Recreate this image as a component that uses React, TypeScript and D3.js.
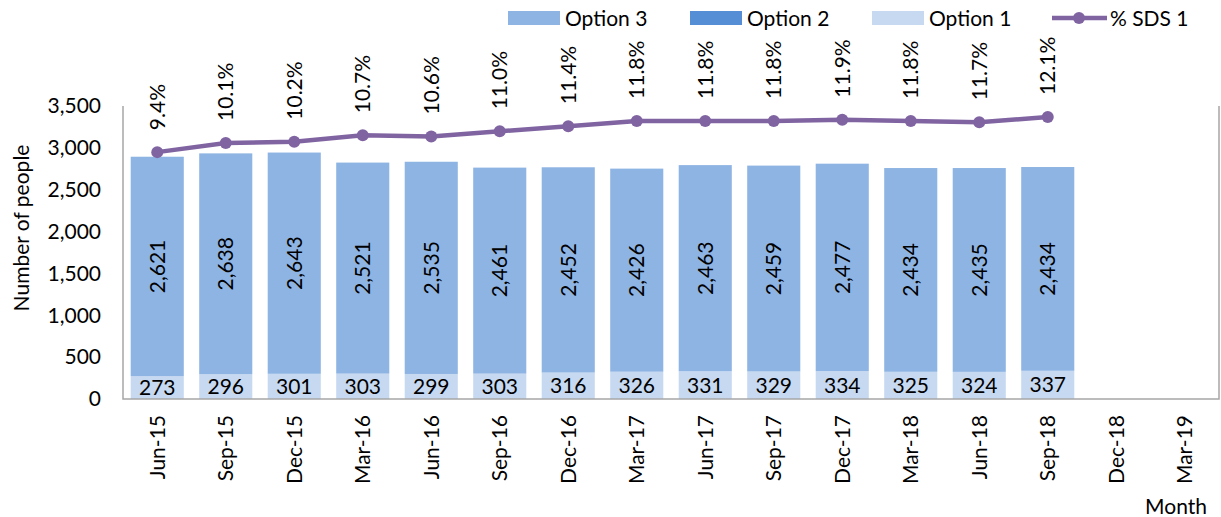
import React, { useEffect, useRef } from 'react';
import * as d3 from 'd3';

const months = ['Jun-15', 'Sep-15', 'Dec-15', 'Mar-16', 'Jun-16', 'Sep-16', 'Dec-16', 'Mar-17',
  'Jun-17', 'Sep-17', 'Dec-17', 'Mar-18', 'Jun-18', 'Sep-18', 'Dec-18', 'Mar-19'];
const option1 = [273, 296, 301, 303, 299, 303, 316, 326, 331, 329, 334, 325, 324, 337];
const option2 = [0, 0, 0, 0, 0, 0, 0, 0, 0, 0, 0, 0, 0, 0];
const option3 = [2621, 2638, 2643, 2521, 2535, 2461, 2452, 2426, 2463, 2459, 2477, 2434, 2435, 2434];
const sds1 = [9.4, 10.1, 10.2, 10.7, 10.6, 11.0, 11.4, 11.8, 11.8, 11.8, 11.9, 11.8, 11.7, 12.1];
const yTicks = [0, 500, 1000, 1500, 2000, 2500, 3000, 3500];

const FONT = 'Lato, "DejaVu Sans Condensed", sans-serif';
const C1 = '#c6d9f1';
const C2 = '#558ed5';
const C3 = '#8eb4e3';
const CL = '#8064a2';

export default function App() {
  const ref = useRef<SVGSVGElement>(null);

  useEffect(() => {
    const svg = d3.select(ref.current);
    svg.selectAll('*').remove();
    const margin = { top: 106, right: 2, bottom: 118, left: 123 };
    const W = 1221, H = 517;
    const width = W - margin.left - margin.right;
    const height = H - margin.top - margin.bottom;

    const g = svg.append('g').attr('transform', `translate(${margin.left},${margin.top})`);
    const x = d3.scaleBand().domain(months).range([0, width]).paddingInner(0.225).paddingOuter(0.1125);
    const y = d3.scaleLinear().domain([0, 3500]).range([height, 0]);
    const y2 = d3.scaleLinear().domain([-9.6, 12.95]).range([height, 0]);

    const rows = option1.map((v, i) => ({
      month: months[i], o1: v, o2: option2[i], o3: option3[i], pct: sds1[i]
    }));

    // bars
    const bars = g.selectAll('.bar').data(rows).enter().append('g');
    bars.append('rect')
      .attr('x', d => x(d.month)!)
      .attr('width', x.bandwidth())
      .attr('y', d => y(d.o1))
      .attr('height', d => height - y(d.o1))
      .attr('fill', C1);
    bars.append('rect')
      .attr('x', d => x(d.month)!)
      .attr('width', x.bandwidth())
      .attr('y', d => y(d.o1 + d.o2))
      .attr('height', d => y(d.o1) - y(d.o1 + d.o2))
      .attr('fill', C2);
    bars.append('rect')
      .attr('x', d => x(d.month)!)
      .attr('width', x.bandwidth())
      .attr('y', d => y(d.o1 + d.o2 + d.o3))
      .attr('height', d => y(d.o1 + d.o2) - y(d.o1 + d.o2 + d.o3))
      .attr('fill', C3);

    const fmt = d3.format(',');
    bars.append('text')
      .attr('x', d => x(d.month)! + x.bandwidth() / 2)
      .attr('y', d => (y(0) + y(d.o1)) / 2)
      .attr('dy', '0.36em')
      .attr('text-anchor', 'middle')
      .text(d => fmt(d.o1));
    bars.append('text')
      .attr('transform', d => {
        const cx = x(d.month)! + x.bandwidth() / 2;
        const cy = (y(d.o1 + d.o2) + y(d.o1 + d.o2 + d.o3)) / 2;
        return `translate(${cx},${cy}) rotate(-90)`;
      })
      .attr('dy', '0.36em')
      .attr('text-anchor', 'middle')
      .text(d => fmt(d.o3));

    // frame
    g.append('path')
      .attr('d', `M0,0V${height}H${width}V0`)
      .attr('fill', 'none')
      .attr('stroke', '#a6a6a6')
      .attr('stroke-width', 1.5);

    // y axis
    const yAxis = g.append('g').call(d3.axisLeft(y).tickValues(yTicks).tickFormat(d3.format(',')).tickSize(0).tickPadding(22));
    yAxis.select('.domain').remove();

    // x axis labels
    g.selectAll('.xl').data(months).enter().append('text')
      .attr('transform', d => `translate(${x(d)! + x.bandwidth() / 2},${height + 16}) rotate(-90)`)
      .attr('dy', '0.36em')
      .attr('text-anchor', 'end')
      .text(d => d);

    // line
    const line = d3.line<typeof rows[0]>()
      .x(d => x(d.month)! + x.bandwidth() / 2)
      .y(d => y2(d.pct));
    g.append('path').datum(rows)
      .attr('d', line)
      .attr('fill', 'none')
      .attr('stroke', CL)
      .attr('stroke-width', 4.5);
    g.selectAll('.pt').data(rows).enter().append('circle')
      .attr('cx', d => x(d.month)! + x.bandwidth() / 2)
      .attr('cy', d => y2(d.pct))
      .attr('r', 6)
      .attr('fill', CL);
    g.selectAll('.pl').data(rows).enter().append('text')
      .attr('transform', d => `translate(${x(d.month)! + x.bandwidth() / 2},${y2(d.pct) - 22}) rotate(-90)`)
      .attr('dy', '0.36em')
      .attr('text-anchor', 'start')
      .text(d => d.pct.toFixed(1) + '%');

    // titles
    svg.append('text')
      .attr('transform', 'translate(21,228) rotate(-90)')
      .attr('dy', '0.36em')
      .attr('text-anchor', 'middle')
      .text('Number of people');
    svg.append('text')
      .attr('x', 1176).attr('y', 506)
      .attr('dy', '0.36em')
      .attr('text-anchor', 'middle')
      .text('Month');

    // legend
    const legend = [
      { name: 'Option 3', color: C3, x: 508 },
      { name: 'Option 2', color: C2, x: 690 },
      { name: 'Option 1', color: C1, x: 872 },
    ];
    const lg = svg.append('g');
    legend.forEach(l => {
      lg.append('rect').attr('x', l.x).attr('y', 11).attr('width', 52).attr('height', 14).attr('fill', l.color);
      lg.append('text').attr('x', l.x + 57).attr('y', 18).attr('dy', '0.36em').text(l.name);
    });
    lg.append('line').attr('x1', 1052).attr('x2', 1107).attr('y1', 18).attr('y2', 18)
      .attr('stroke', CL).attr('stroke-width', 4.5);
    lg.append('circle').attr('cx', 1079).attr('cy', 18).attr('r', 6).attr('fill', CL);
    lg.append('text').attr('x', 1110).attr('y', 18).attr('dy', '0.36em').text('% SDS 1');

    svg.selectAll('text').attr('font-family', FONT).attr('font-size', 21).attr('fill', '#000');
  }, []);

  return (
    <svg ref={ref} width={1221} height={517}
      style={{ position: 'absolute', left: 0, top: 0, background: '#fff' }} />
  );
}
